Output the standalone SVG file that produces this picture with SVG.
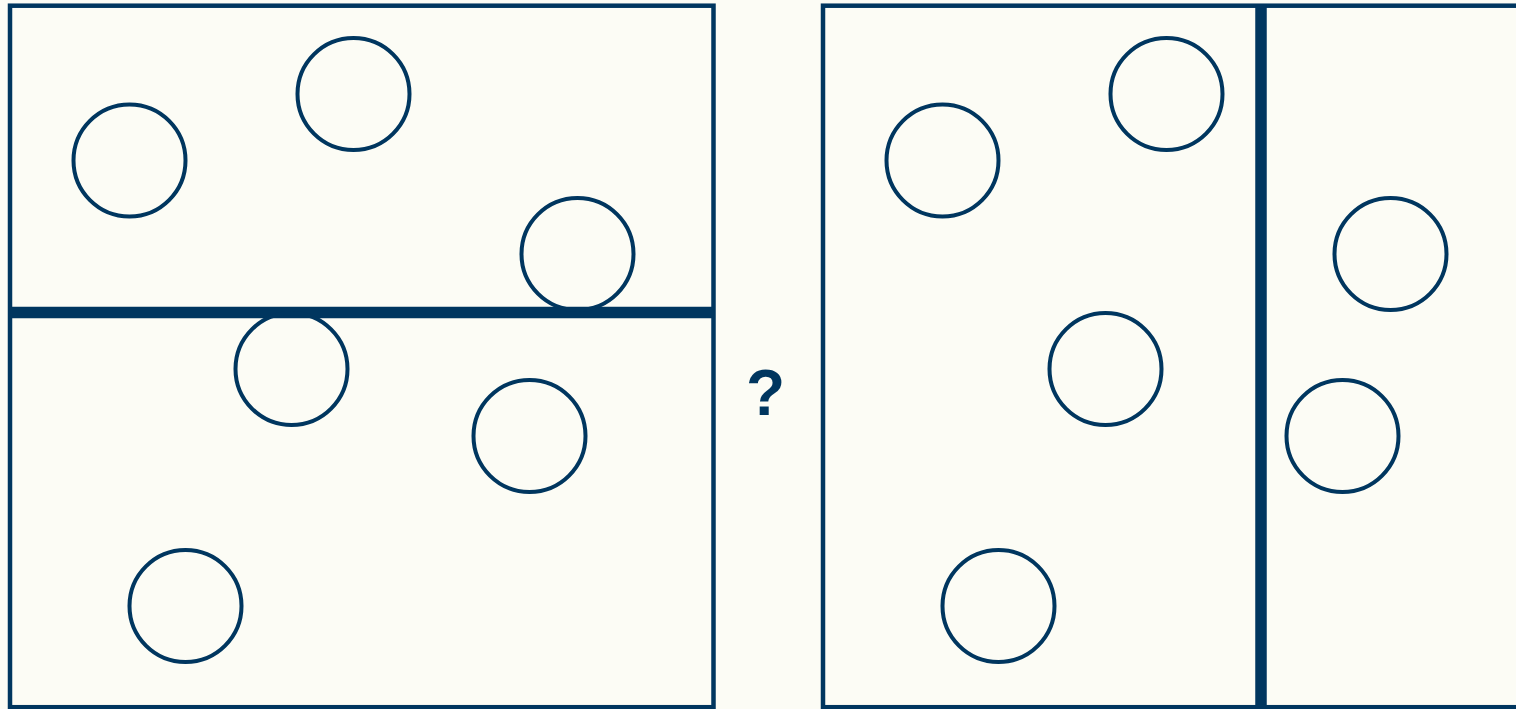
<svg xmlns="http://www.w3.org/2000/svg" width="1516" height="709" viewBox="0 0 1516 709">
<style>
.frame{fill:none;stroke:#00365f;stroke-width:4.5}
.div{stroke:#00365f;stroke-width:11.5}
.c{fill:none;stroke:#00365f;stroke-width:4}
.q{font-family:"Liberation Sans",Arial,sans-serif;font-weight:bold;font-size:64px;fill:#00365f}
</style>
<rect width="1516" height="709" fill="#fcfcf5"/>
<g id="left-panel">
<rect class="frame" x="10" y="5.7" width="703.5" height="701.5"/>
<line class="div" x1="10" y1="312.5" x2="713.5" y2="312.5"/>
</g>
<g id="right-panel">
<rect class="frame" x="823" y="5.7" width="720" height="701.5"/>
<line class="div" x1="1261" y1="5.7" x2="1261" y2="709"/>
</g>
<g id="left-circles">
<circle class="c" cx="129.5" cy="160.5" r="56"/>
<circle class="c" cx="353.5" cy="94" r="56"/>
<circle class="c" cx="577.5" cy="254" r="56"/>
<circle class="c" cx="291.5" cy="369" r="56"/>
<circle class="c" cx="529.5" cy="436" r="56"/>
<circle class="c" cx="185.5" cy="606" r="56"/>
</g>
<g id="right-circles">
<circle class="c" cx="942.5" cy="160.5" r="56"/>
<circle class="c" cx="1166.5" cy="94" r="56"/>
<circle class="c" cx="1105.5" cy="369" r="56"/>
<circle class="c" cx="998.5" cy="606" r="56"/>
<circle class="c" cx="1390.5" cy="254" r="56"/>
<circle class="c" cx="1342.5" cy="436" r="56"/>
</g>
<g id="question">
<text class="q" x="765.5" y="415" text-anchor="middle">?</text>
</g>
<g id="connectors"/>
</svg>
